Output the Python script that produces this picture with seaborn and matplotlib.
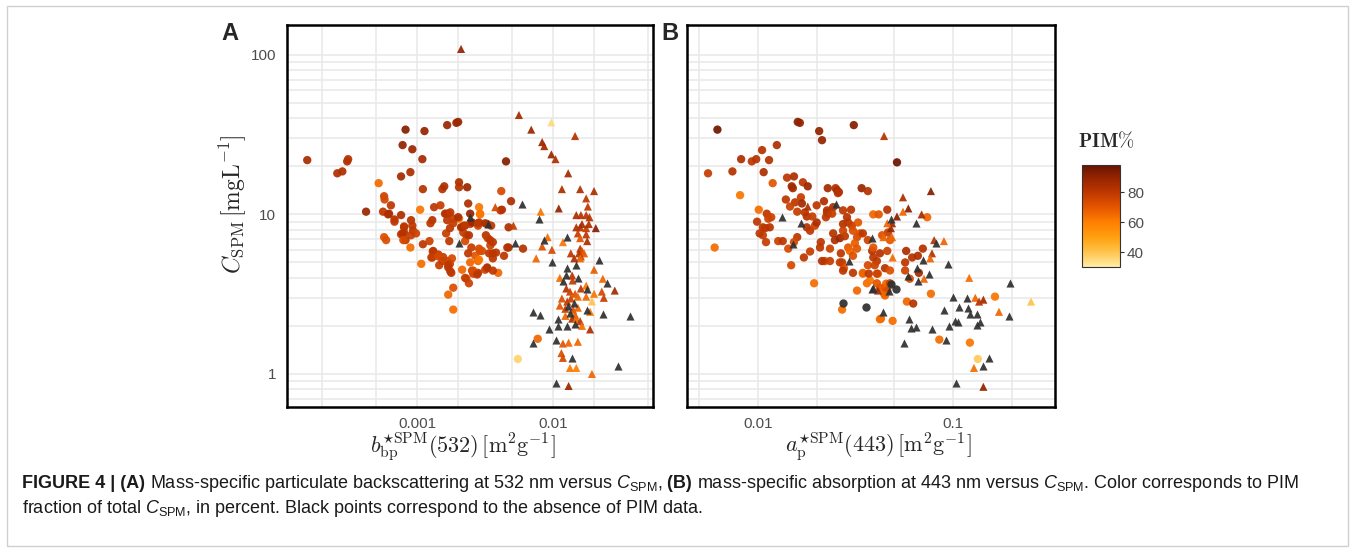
import numpy as np
import pandas as pd
import seaborn as sns
import matplotlib.pyplot as plt
from matplotlib.colors import LinearSegmentedColormap, Normalize
from matplotlib.cm import ScalarMappable
from matplotlib.patches import Rectangle

nan = np.nan

# ---- panel A: b_bp*SPM(532) vs C_SPM ----
a_circ_x = [1.55e-4, 2.58e-4, 2.81e-4, 3.05e-4, 3.1e-4, 4.2e-4, 5.2e-4, 5.7e-4, 5.75e-4, 6.4e-4,
            5.6e-4, 6.2e-4, 7.6e-4, 6.8e-4, 8.2e-4, 1.13e-3, 7.8e-4, 9.2e-4, 1.09e-3, 7.6e-4,
            8.9e-4, 1.1e-3, 1.66e-3, 1.94e-3, 2.0e-3, 2.03e-3, 2.03e-3, 2.33e-3, 1.53e-3, 1.58e-3,
            4.5e-3, 4.15e-3, 4.9e-3, 4.1e-3, 4.2e-3, 2.37e-3, 2.85e-3, 2.9e-3, 2.45e-3, 1.05e-3,
            1.33e-3, 1.48e-3, 1.63e-3, 1.69e-3, 2.03e-3, 6.1e-4, 6.8e-4, 8.0e-4, 8.0e-4, 9.0e-4,
            9.2e-4, 9.3e-4, 9.8e-4, 9.0e-4, 7.6e-4, 5.7e-4, 5.9e-4, 8.2e-4, 8.9e-4, 1.1e-3,
            1.23e-3, 1.3e-3, 1.29e-3, 1.07e-3, 1.43e-3, 1.55e-3, 1.66e-3, 1.8e-3, 1.74e-3, 1.69e-3,
            1.78e-3, 2.14e-3, 2.53e-3, 2.8e-3, 2.58e-3, 2.3e-3, 2.4e-3, 1.84e-3, 1.69e-3, 1.84e-3,
            1.63e-3, 1.74e-3, 1.66e-3, 1.6e-3, 1.84e-3, 2.0e-3, 2.2e-3, 2.14e-3, 2.45e-3, 2.53e-3,
            2.3e-3, 2.9e-3, 2.8e-3, 2.85e-3, 3.27e-3, 3.5e-3, 3.2e-3, 3.3e-3, 3.45e-3, 3.6e-3,
            2.85e-3, 3.0e-3, 2.67e-3, 2.37e-3, 2.8e-3, 3.6e-3, 3.6e-3, 3.27e-3, 3.94e-3, 4.35e-3,
            4.7e-3, 4.7e-3, 6.0e-3, 7.7e-3, 5.5e-3, 1.29e-3, 1.25e-3, 8.0e-4, 7.8e-4, 7.9e-4,
            1.72e-3, 2.18e-3, 2.25e-3, 2.4e-3, 2.1e-3, 2.5e-3, 2.9e-3, 3.44e-3, 3.8e-3, 4.6e-3,
            1.31e-3, 1.27e-3, 1.43e-3, 1.53e-3, 1.69e-3, 1.45e-3, 1.75e-3, 2.25e-3, 2.58e-3, 2.76e-3,
            3.16e-3, 3.27e-3, 3.6e-3, 2.85e-3, 2.45e-3, 3.38e-3, 1.75e-3, 1.84e-3, 2.25e-3, 2.8e-3, 3.16e-3]
a_circ_y = [21.9, 18.1, 18.6, 21.5, 22.2, 10.4, 15.7, 13.0, 12.4, 11.4,
            10.4, 10.1, 9.9, 9.3, 34, 33.3, 27.2, 25.6, 22.2, 17.3,
            18.4, 14.4, 36.3, 37.5, 38, 15.9, 14.8, 14.8, 14.4, 15.0,
            21.5, 14.0, 12.1, 10.6, 10.7, 11.7, 11.1, 10.1, 10.1, 10.7,
            11.1, 11.4, 10.1, 10.1, 9.4, 10.0, 9.0, 8.4, 7.7, 9.2,
            8.5, 7.9, 7.6, 7.4, 7.5, 7.2, 6.9, 6.9, 6.2, 6.5,
            6.8, 5.85, 5.37, 4.9, 5.6, 5.4, 5.1, 5.3, 4.9, 4.65,
            4.3, 4.5, 4.44, 4.3, 4.25, 3.95, 3.7, 3.47, 3.14, 2.53,
            7.6, 8.2, 9.2, 10.1, 9.4, 9.6, 8.5, 8.3, 8.7, 8.9,
            7.4, 10.0, 8.5, 8.9, 8.7, 8.5, 7.4, 7.1, 6.4, 6.7,
            6.1, 5.9, 5.5, 5.7, 5.1, 5.7, 5.3, 4.6, 4.3, 5.5,
            6.2, 8.3, 6.1, 1.66, 1.24, 9.2, 8.8, 8.3, 7.6, 6.9,
            6.8, 7.7, 6.8, 7.4, 8.3, 6.2, 5.9, 6.9, 5.76, 6.2,
            5.9, 5.37, 5.45, 5.1, 4.8, 4.8, 4.4, 4.0, 4.44, 4.2,
            4.5, 4.65, 4.44, 5.2, 5.0, 5.7, 10.3, 8.8, 8.5, 8.8, 8.8]
a_circ_pim = [85, 84, 84, 84, 82, 88, 65, 76, 74, 80,
              80, 85, 84, 82, 92, 90, 90, 88, 86, 86,
              84, 82, 88, 88, 88, 84, 82, 88, 82, 84,
              92, 74, 84, 80, 82, 84, 62, 62, 90, 62,
              80, 78, 80, 82, 62, 84, 80, 80, 80, 82,
              80, 80, 76, 78, 80, 72, 72, 80, 64, 80,
              76, 76, 80, 64, 80, 78, 76, 74, 76, 80,
              80, 66, 78, 80, 76, 72, 76, 72, 66, 64,
              78, 80, 80, 82, 78, 84, 78, 82, 76, 88,
              80, 62, 76, 80, 84, 80, 82, 78, 76, 80,
              74, 72, 70, 80, 66, 80, 80, 78, 66, 80,
              84, 84, 82, 66, 36, 82, 80, 80, 82, 74,
              80, 78, 74, 82, 84, 78, 72, 80, 80, 82,
              80, 78, 74, 76, 80, 78, 80, 78, 72, 80,
              76, 82, 80, 62, 66, 80, 80, 78, 80, 80, 84]

a_tri_x = [2.1e-3, 5.6e-3, 9.7e-3, 6.9e-3, 0.0145, 8.3e-3, 8.6e-3, 9.7e-3, 0.0104, 0.0129,
           0.0116, 0.0158, 0.020, 0.0175, 0.018, 0.011, 0.0148, 0.016, 0.0175, 5.9e-3,
           8.1e-3, 7.9e-3, 3.75e-3, 2.45e-3, 3.3e-3, 2.03e-3, 5.25e-3, 5.1e-3, 9.1e-3, 8.3e-3,
           8.5e-3, 9.8e-3, 7.5e-3, 9.8e-3, 0.0127, 0.0118, 0.0217, 0.020, 0.0232, 0.025,
           0.0284, 0.0366, 0.0232, 0.0236, 0.0228, 0.0193, 0.030, 0.0193, 0.0105, 0.013,
           7.1e-3, 8.0e-3, 9.4e-3, 7.1e-3, 0.0105, 0.0118, 0.013, 0.0152, 0.0115, 0.0118,
           0.0138, 0.0133, 0.0148, 0.0108, 0.0108, 0.0127, 0.0185, 0.0148, 0.0158, 0.0163,
           0.0175, 0.0183, 0.0206, 0.0152, 0.0175, 0.0158, 0.0178, 0.0158, 0.0163, 0.0169,
           0.0155, 0.016, 0.0158, 0.0135, 0.0143, 0.0148, 0.0127, 0.0125, 0.0118, 0.0138,
           0.0152, 0.0139, 0.0112, 0.0175, 0.016, 0.0178, 0.0125, 0.0133, 0.0145, 0.0152,
           0.020, 0.0175, 0.0116, 0.0127, 0.0135, 0.0143, 0.0112, 0.0129, 0.0123, 0.014,
           0.0152, 0.0133, 0.0145, 0.0178, 0.0187, 0.0123, 0.0138, 0.0148, 0.0158, 0.0163,
           0.0145, 0.0187]
a_tri_y = [109, 42, 37.8, 34, 31, 28.4, 26.8, 23.8, 22.2, 18.1,
           14.4, 14.4, 14.0, 12.6, 11.2, 10.9, 9.9, 9.9, 9.9, 11.7,
           10.4, 9.3, 11.1, 9.6, 8.7, 6.6, 6.6, 8.5, 7.2, 6.3,
           6.9, 6.0, 5.3, 5.06, 7.2, 6.7, 5.2, 4.5, 3.95, 3.7,
           3.33, 2.32, 2.38, 3.0, 3.28, 2.85, 1.12, 1.0, 0.88, 0.84,
           2.45, 2.35, 1.92, 1.57, 1.62, 1.55, 1.57, 1.59, 1.35, 1.26,
           1.26, 1.09, 1.09, 2.0, 2.22, 2.0, 9.6, 8.3, 8.3, 8.7,
           8.2, 8.7, 8.2, 7.6, 7.5, 7.1, 6.8, 6.1, 5.9, 5.7,
           5.7, 5.45, 5.3, 5.7, 5.3, 4.85, 4.58, 4.14, 3.8, 4.14,
           4.0, 3.85, 4.0, 3.58, 3.43, 3.43, 3.43, 3.28, 3.18, 3.05,
           3.18, 3.05, 2.97, 2.84, 2.97, 2.79, 2.68, 2.68, 2.56, 2.53,
           2.6, 2.42, 2.35, 2.53, 2.45, 2.31, 2.22, 2.22, 2.14, 2.0,
           2.05, 1.9]
a_tri_pim = [90, 86, 35, 88, 82, 88, 86, 88, 84, 86,
             84, 84, 84, 80, 80, 90, 84, 82, 80, nan,
             62, nan, 74, nan, nan, nan, nan, 78, 64, 72,
             nan, 74, 66, nan, nan, 62, nan, 68, 66, nan,
             86, nan, nan, 78, 74, 40, nan, 66, nan, 88,
             nan, nan, nan, nan, nan, 70, 66, 66, 72, 74,
             nan, 62, 60, nan, nan, nan, 82, 84, 82, 86,
             78, 84, 92, 78, 80, 70, 84, 80, 72, 68,
             82, 76, 66, 80, 84, nan, nan, nan, nan, 80,
             nan, 78, 64, 62, 80, nan, 82, 76, 70, 66,
             62, 66, 72, 80, 76, nan, 70, nan, 78, 72,
             66, nan, 68, nan, 62, 66, 84, 66, 80, 64,
             nan, 84]

# ---- panel B: a_p*SPM(443) vs C_SPM ----
b_circ_x = [6.2e-3, 0.016, 0.0164, 0.0206, 0.0213, 0.031, 0.0516, 0.0125, 0.0105, 8.2e-3,
            9.3e-3, 9.8e-3, 0.0114, 5.55e-3, 7.4e-3, 0.0107, 8.1e-3, 0.0119, 0.0141, 0.0153,
            0.0149, 0.0151, 0.017, 0.018, 0.0228, 0.025, 0.026, 0.034, 0.0366, 0.0139,
            0.0166, 0.0168, 0.0155, 0.0146, 0.02, 0.0218, 0.0101, 0.0111, 0.0117, 0.0226,
            0.0228, 0.0243, 0.0273, 0.03, 0.039, 0.0416, 0.046, 0.0737, 0.0159, 0.0174,
            9.9e-3, 0.0109, 0.0106, 0.0115, 6.0e-3, 0.0127, 0.0134, 0.0143, 0.0159, 0.0153,
            0.0148, 0.0172, 0.0185, 0.0178, 0.0185, 0.0196, 0.02, 0.0178, 0.019, 0.0226,
            0.0223, 0.024, 0.0254, 0.0257, 0.021, 0.0234, 0.022, 0.0234, 0.0243, 0.0248,
            0.0263, 0.0279, 0.0273, 0.0273, 0.029, 0.0303, 0.0286, 0.0307, 0.0326, 0.0322,
            0.0314, 0.0333, 0.0266, 0.027, 0.029, 0.0296, 0.0307, 0.0322, 0.0276, 0.0307,
            0.0345, 0.0366, 0.039, 0.0385, 0.0345, 0.0366, 0.039, 0.0407, 0.0422, 0.0397,
            0.0464, 0.0433, 0.0475, 0.046, 0.0448, 0.0475, 0.0412, 0.0362, 0.0322, 0.0194,
            0.0575, 0.0568, 0.0617, 0.066, 0.07, 0.0568, 0.06, 0.0668, 0.077, 0.164,
            0.036, 0.0427, 0.049, 0.058, 0.0625, 0.0448, 0.048, 0.051, 0.0443, 0.0375,
            0.0407, 0.0454, 0.0345, 0.037, 0.0273, 0.027, 0.0422, 0.085, 0.122, 0.134,
            0.0106, 0.0113, 0.0102, 0.011, 0.0208, 0.0213, 0.0263, 0.0273, 0.0407, 0.0422,
            0.046, 0.0475, 0.0448]
b_circ_y = [34, 38, 37.5, 33.3, 29.2, 36.3, 21.2, 27.2, 25.3, 22.2,
            21.5, 22.2, 21.9, 18.1, 18.6, 18.4, 13.2, 15.7, 17.0, 17.3,
            15.0, 14.6, 15.9, 15.0, 14.6, 14.6, 13.8, 14.6, 14.0, 12.4,
            12.8, 11.7, 11.9, 11.2, 11.4, 12.1, 10.7, 10.1, 9.6, 10.6,
            10.1, 11.1, 10.6, 10.7, 10.0, 10.0, 10.7, 9.6, 10.4, 10.3,
            9.0, 8.2, 7.4, 8.3, 6.2, 6.8, 6.8, 6.1, 7.2, 6.7,
            4.8, 5.37, 5.85, 8.3, 7.9, 8.5, 8.9, 9.7, 9.7, 10.3,
            9.6, 10.1, 14.2, 13.6, 6.7, 6.1, 5.1, 5.1, 7.6, 6.9,
            7.1, 7.3, 8.7, 7.9, 8.9, 8.5, 9.6, 7.9, 8.9, 7.2,
            6.6, 7.6, 5.7, 5.0, 6.2, 5.9, 5.5, 6.1, 4.6, 4.3,
            4.3, 4.8, 5.37, 5.9, 7.6, 6.9, 6.2, 5.1, 5.7, 4.8,
            7.7, 7.4, 6.9, 5.9, 4.6, 4.45, 4.25, 3.7, 3.33, 3.7,
            5.9, 5.0, 5.37, 5.5, 6.1, 4.45, 3.95, 4.3, 3.18, 3.05,
            2.63, 2.22, 2.15, 2.84, 2.76, 3.47, 3.68, 3.43, 3.18, 3.85,
            3.7, 3.68, 4.25, 4.25, 2.8, 2.53, 2.2, 1.64, 1.57, 1.24,
            8.3, 9.4, 7.6, 6.7, 6.2, 5.1, 5.0, 4.44, 4.25, 3.47,
            3.33, 3.7, 3.1]
b_circ_pim = [96, 92, 90, 90, 90, 92, 97, 84, 82, 84,
              80, 82, 82, 78, 82, 84, 62, 70, 80, 84,
              88, 86, 80, 88, 86, 82, 84, 88, 82, 80,
              78, 86, 80, 76, 80, 84, 64, 80, 76, 82,
              80, 84, 80, 82, 66, 70, 82, 66, 78, 80,
              80, 80, 78, 82, 64, 76, 80, 74, 80, 74,
              74, 80, 78, 82, 80, 76, 84, 82, 78, 82,
              80, 78, 84, 82, 80, 76, 74, 78, 82, 84,
              88, 80, 82, 76, 80, 78, 82, 72, 70, 74,
              68, 72, 80, 78, 70, 66, 72, 70, 70, 80,
              66, 74, 80, 82, 80, 76, 70, 80, 82, 76,
              78, 72, 70, 76, 82, 72, 66, 64, 66, 64,
              84, 80, 82, 84, 82, 76, 72, 86, 64, 62,
              nan, 66, 64, 66, 82, 64, nan, nan, 64, 62,
              70, 66, 66, 80, nan, 64, 64, 64, 62, 38,
              80, 76, 80, 78, 80, 82, 78, 80, 76, 70,
              74, 76, 66]

b_tri_x = [0.0443, 0.077, 0.0554, 0.059, 0.0554, 0.0516, 0.069, 0.018, 0.025, 0.0133,
           0.048, 0.0166, 0.0151, 0.0293, 0.0385, 0.048, 0.0487, 0.049, 0.0385, 0.047,
           0.0645, 0.08, 0.0898, 0.0816, 0.078, 0.0764, 0.0702, 0.094, 0.0655, 0.059,
           0.066, 0.075, 0.071, 0.121, 0.196, 0.1, 0.118, 0.13, 0.143, 0.136,
           0.251, 0.107, 0.119, 0.09, 0.122, 0.133, 0.172, 0.194, 0.102, 0.106,
           0.095, 0.137, 0.133, 0.078, 0.092, 0.056, 0.153, 0.143, 0.128, 0.104,
           0.143, 0.044, 0.0595, 0.061, 0.0645, 0.039, 0.0412, 0.044, 0.0487, 0.046]
b_tri_y = [31, 14.0, 12.8, 10.9, 10.4, 9.7, 10.0, 11.2, 11.7, 9.6,
           9.4, 8.8, 6.5, 5.1, 7.1, 8.2, 7.2, 5.37, 3.43, 3.33,
           8.8, 6.9, 6.8, 6.6, 5.7, 5.3, 5.2, 4.9, 4.6, 4.1,
           3.85, 4.2, 3.95, 4.0, 3.7, 3.05, 3.0, 3.0, 2.92, 2.84,
           2.84, 2.63, 2.6, 2.53, 2.38, 2.38, 2.45, 2.32, 2.15, 2.1,
           2.0, 2.13, 2.04, 1.92, 1.62, 1.57, 1.26, 1.12, 1.09, 0.88,
           0.83, 2.45, 2.22, 1.95, 1.97, 3.47, 3.33, 7.2, 8.8, 8.8]
b_tri_pim = [82, 92, 84, 92, 66, 92, 86, 84, nan, nan,
             nan, nan, nan, nan, nan, 88, 66, 64, nan, nan,
             nan, 82, 66, nan, 82, 66, nan, nan, nan, nan,
             nan, nan, 66, 64, nan, nan, nan, 66, 86, 82,
             40, nan, nan, nan, nan, nan, 66, nan, nan, nan,
             nan, nan, nan, nan, nan, nan, nan, nan, 64, nan,
             90, nan, nan, nan, nan, nan, 86, 66, 86, 66]

x_grid_a = [2e-4, 5e-4, 1e-3, 2e-3, 5e-3, 1e-2, 2e-2, 5e-2]
x_grid_b = [5e-3, 1e-2, 2e-2, 5e-2, 0.1, 0.2]
y_grid = [0.7, 0.8, 0.9, 1, 2, 3, 4, 5, 6, 7, 8, 9, 10, 20, 30, 40, 50, 60, 70, 80, 90, 100]
x_labels_a = {1e-3: "0.001", 1e-2: "0.01"}
x_labels_b = {1e-2: "0.01", 0.1: "0.1"}
y_labels = {1: "1", 10: "10", 100: "100"}
pim_ticks = [40, 60, 80]

sns.set_style("white")
plt.rcParams["font.family"] = ["Liberation Sans", "DejaVu Sans"]
plt.rcParams["mathtext.fontset"] = "cm"
plt.rcParams["mathtext.rm"] = "Liberation Sans"
plt.rcParams["mathtext.it"] = "Liberation Sans:italic"
plt.rcParams["mathtext.bf"] = "Liberation Sans:bold"

pim_cmap = LinearSegmentedColormap.from_list(
    "pim", [(0.0, "#FFEDA6"), (0.15, "#FFC24A"), (0.29, "#FFA010"), (0.44, "#FF7F00"),
            (0.59, "#E45400"), (0.74, "#BC3600"), (0.88, "#942400"), (1.0, "#661200")])
pim_norm = Normalize(30, 98)
TICK_COL = "#4D4D4D"
W, H = 1356, 552

fig = plt.figure(figsize=(W / 100, H / 100), dpi=100)
fig.patches.append(Rectangle((7 / W, 6 / H), 1341 / W, 540 / H, transform=fig.transFigure,
                             fill=False, edgecolor="#D0D0D0", linewidth=1))
ax_a = fig.add_axes([287 / W, 1 - 407 / H, 366 / W, 382 / H])
ax_b = fig.add_axes([687 / W, 1 - 407 / H, 368 / W, 382 / H])


def draw_points(ax, xs, ys, pims, marker, size):
    df = pd.DataFrame({"x": xs, "y": ys, "pim": pims})
    col = df.dropna()
    blk = df[df["pim"].isna()]
    sns.scatterplot(data=col, x="x", y="y", hue="pim", palette=pim_cmap, hue_norm=pim_norm,
                    marker=marker, s=size, linewidth=0, alpha=0.93, legend=False, ax=ax, zorder=3)
    if len(blk):
        sns.scatterplot(data=blk, x="x", y="y", color="#303030", marker=marker, s=size,
                        linewidth=0, alpha=0.93, legend=False, ax=ax, zorder=3)


def style_panel(ax, xlim, x_grid, x_labels, show_y):
    ax.set_xscale("log")
    ax.set_yscale("log")
    ax.set_xlim(*xlim)
    ax.set_ylim(0.62, 154)
    ax.set_xticks(list(x_labels.keys()), labels=list(x_labels.values()))
    ax.set_xticks(x_grid, minor=True)
    ax.set_yticks(list(y_labels.keys()), labels=list(y_labels.values()) if show_y else [])
    ax.set_yticks(y_grid, minor=True)
    ax.xaxis.set_minor_formatter(plt.NullFormatter())
    ax.yaxis.set_minor_formatter(plt.NullFormatter())
    ax.grid(True, which="both", color="#E8E8E8", linewidth=1.1)
    ax.set_axisbelow(True)
    ax.tick_params(which="both", length=0, labelsize=11, labelcolor=TICK_COL)
    ax.tick_params(axis="x", pad=7)
    ax.tick_params(axis="y", pad=8)
    for sp in ax.spines.values():
        sp.set_visible(True)
        sp.set_color("black")
        sp.set_linewidth(1.8)
    ax.set_ylabel("")


draw_points(ax_a, a_circ_x, a_circ_y, a_circ_pim, "o", 36)
draw_points(ax_a, a_tri_x, a_tri_y, a_tri_pim, "^", 34)
draw_points(ax_b, b_circ_x, b_circ_y, b_circ_pim, "o", 36)
draw_points(ax_b, b_tri_x, b_tri_y, b_tri_pim, "^", 34)

style_panel(ax_a, (1.1e-4, 0.0543), x_grid_a, x_labels_a, True)
style_panel(ax_b, (0.00433, 0.333), x_grid_b, x_labels_b, False)

ax_a.set_ylabel(r"$C_{\mathrm{SPM}}\,[\mathrm{mg L^{-1}}]$", fontsize=17)
ax_a.yaxis.set_label_coords(-0.105, 0.53)
ax_a.set_xlabel(r"$b^{\star\mathrm{SPM}}_{\mathrm{bp}}(532)\,[\mathrm{m^2 g^{-1}}]$", fontsize=16)
ax_a.xaxis.set_label_coords(0.48, -0.062)
ax_b.set_xlabel(r"$a^{\star\mathrm{SPM}}_{\mathrm{p}}(443)\,[\mathrm{m^2 g^{-1}}]$", fontsize=16)
ax_b.xaxis.set_label_coords(0.52, -0.062)

fig.text(230 / W, 1 - 33 / H, "A", fontsize=17, fontweight="bold", ha="center", va="center")
fig.text(670 / W, 1 - 33 / H, "B", fontsize=17, fontweight="bold", ha="center", va="center")

# colour bar
cax = fig.add_axes([1082 / W, 1 - 267 / H, 38 / W, 102 / H])
cbar = fig.colorbar(ScalarMappable(norm=pim_norm, cmap=pim_cmap), cax=cax, ticks=pim_ticks)
cbar.outline.set_linewidth(0.8)
cbar.outline.set_edgecolor("#333333")
cax.tick_params(length=3, width=0.8, color="#333333", labelsize=11, labelcolor=TICK_COL, pad=2)
fig.text(1078 / W, 1 - 141 / H, r"$\mathbf{PIM\%}$", fontsize=14, ha="left", va="center")

# caption
fig.canvas.draw()
renderer = fig.canvas.get_renderer()


def caption_line(x_px, y_px, parts):
    x = x_px / W
    for txt, weight in parts:
        t = fig.text(x, 1 - y_px / H, txt, fontsize=13, fontweight=weight, color="#1A1A1A",
                     ha="left", va="baseline", math_fontfamily="custom")
        x += t.get_window_extent(renderer).width / W


cspm = r"$C_{\mathrm{SPM}}$"
caption_line(22, 488, [
    ("FIGURE 4 | (A)", "bold"),
    (" Mass-specific particulate backscattering at 532 nm versus " + cspm + ",", "normal"),
    (" (B)", "bold"),
    (" mass-specific absorption at 443 nm versus " + cspm + ". Color corresponds to PIM", "normal"),
])
caption_line(22, 513, [
    ("fraction of total " + cspm + ", in percent. Black points correspond to the absence of PIM data.", "normal"),
])

fig.savefig("out.png", dpi=100)
